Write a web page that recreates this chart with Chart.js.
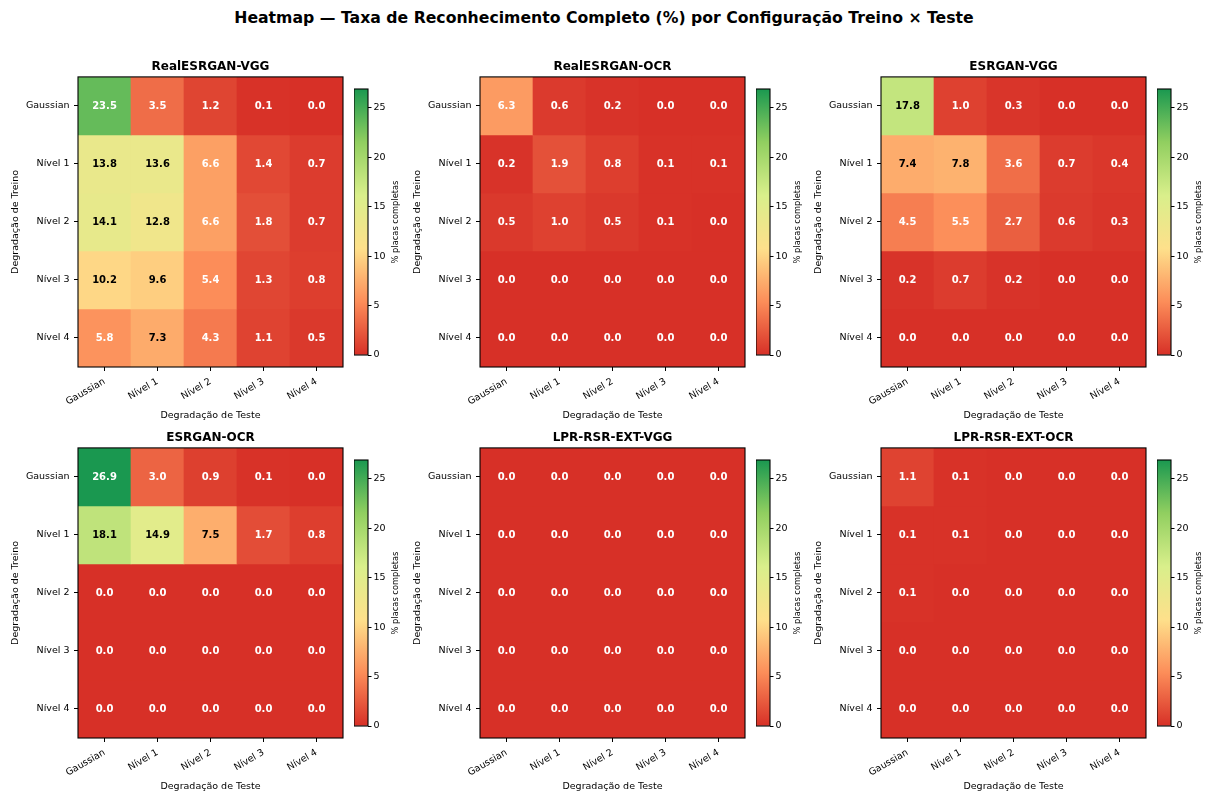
<!DOCTYPE html>
<html>
<head>
<meta charset="utf-8">
<script src="https://cdn.jsdelivr.net/npm/chart.js@4.4.1/dist/chart.umd.min.js"></script>
<style>
  body { margin: 0; background: #fff; width: 1208px; height: 794px; position: relative; overflow: hidden; font-family: 'DejaVu Sans', sans-serif; }
  #suptitle { position: absolute; left: 0; top: 8px; width: 1208px; text-align: center; font-weight: bold; font-size: 15.7px; color: #000; }
  canvas { position: absolute; }
</style>
</head>
<body>
<div id="suptitle">Heatmap — Taxa de Reconhecimento Completo (%) por Configuração Treino × Teste</div>
<script>
// eixos
const testLabels = ['Gaussian', 'Nível 1', 'Nível 2', 'Nível 3', 'Nível 4'];
const trainLabels = ['Gaussian', 'Nível 1', 'Nível 2', 'Nível 3', 'Nível 4'];
const colorbarTicks = [0, 5, 10, 15, 20, 25];

// % placas completas (linhas = treino, colunas = teste)
const realEsrganVgg = [
  [23.5, 3.5, 1.2, 0.1, 0.0],
  [13.8, 13.6, 6.6, 1.4, 0.7],
  [14.1, 12.8, 6.6, 1.8, 0.7],
  [10.2, 9.6, 5.4, 1.3, 0.8],
  [5.8, 7.3, 4.3, 1.1, 0.5]
];
const realEsrganOcr = [
  [6.3, 0.6, 0.2, 0.0, 0.0],
  [0.2, 1.9, 0.8, 0.1, 0.1],
  [0.5, 1.0, 0.5, 0.1, 0.0],
  [0.0, 0.0, 0.0, 0.0, 0.0],
  [0.0, 0.0, 0.0, 0.0, 0.0]
];
const esrganVgg = [
  [17.8, 1.0, 0.3, 0.0, 0.0],
  [7.4, 7.8, 3.6, 0.7, 0.4],
  [4.5, 5.5, 2.7, 0.6, 0.3],
  [0.2, 0.7, 0.2, 0.0, 0.0],
  [0.0, 0.0, 0.0, 0.0, 0.0]
];
const esrganOcr = [
  [26.9, 3.0, 0.9, 0.1, 0.0],
  [18.1, 14.9, 7.5, 1.7, 0.8],
  [0.0, 0.0, 0.0, 0.0, 0.0],
  [0.0, 0.0, 0.0, 0.0, 0.0],
  [0.0, 0.0, 0.0, 0.0, 0.0]
];
const lprRsrExtVgg = [
  [0.0, 0.0, 0.0, 0.0, 0.0],
  [0.0, 0.0, 0.0, 0.0, 0.0],
  [0.0, 0.0, 0.0, 0.0, 0.0],
  [0.0, 0.0, 0.0, 0.0, 0.0],
  [0.0, 0.0, 0.0, 0.0, 0.0]
];
const lprRsrExtOcr = [
  [1.1, 0.1, 0.0, 0.0, 0.0],
  [0.1, 0.1, 0.0, 0.0, 0.0],
  [0.1, 0.0, 0.0, 0.0, 0.0],
  [0.0, 0.0, 0.0, 0.0, 0.0],
  [0.0, 0.0, 0.0, 0.0, 0.0]
];

const panels = [
  { title: 'RealESRGAN-VGG', values: realEsrganVgg },
  { title: 'RealESRGAN-OCR', values: realEsrganOcr },
  { title: 'ESRGAN-VGG', values: esrganVgg },
  { title: 'ESRGAN-OCR', values: esrganOcr },
  { title: 'LPR-RSR-EXT-VGG', values: lprRsrExtVgg },
  { title: 'LPR-RSR-EXT-OCR', values: lprRsrExtOcr }
];

const vmax = Math.max(...panels.flatMap(p => p.values.flat()));
const FONT = 'DejaVu Sans';

// layout (px)
const colLeft = [78, 480, 881];
const rowTop = [77, 448];
const cellW = 53, cellH = 58;
const yAxisW = 78;
const cbLeft = [354, 756, 1157];
const cbTop = [89, 460];
const cbW = 14, cbH = 266;

// colormap RdYlGn (6 cores)
const cmapStops = ['#d73027', '#fc8d59', '#fee08b', '#d9ef8b', '#91cf60', '#1a9850'];
const hexRgb = h => [1, 3, 5].map(i => parseInt(h.slice(i, i + 2), 16));
function cmap(v) {
  const t = Math.min(Math.max(v / vmax, 0), 1) * (cmapStops.length - 1);
  const i = Math.min(Math.floor(t), cmapStops.length - 2);
  const f = t - i;
  const a = hexRgb(cmapStops[i]), b = hexRgb(cmapStops[i + 1]);
  const c = a.map((x, k) => Math.round(x + (b[k] - x) * f));
  return `rgb(${c[0]},${c[1]},${c[2]})`;
}

const framePlugin = {
  id: 'frame',
  afterDraw(chart) {
    const { ctx, chartArea: a } = chart;
    ctx.save();
    ctx.strokeStyle = '#000';
    ctx.lineWidth = 1.1;
    ctx.strokeRect(a.left, a.top, a.right - a.left, a.bottom - a.top);
    ctx.restore();
  }
};

const annotPlugin = {
  id: 'annot',
  afterDatasetsDraw(chart) {
    const { ctx } = chart;
    const matrix = chart.options.plugins.annot.values;
    ctx.save();
    ctx.font = `bold 10px ${FONT}`;
    ctx.textAlign = 'center';
    ctx.textBaseline = 'middle';
    chart.data.datasets.forEach((ds, i) => {
      chart.getDatasetMeta(i).data.forEach((bar, j) => {
        const v = matrix[i][j];
        const { x, y, base } = bar.getProps(['x', 'y', 'base'], true);
        ctx.fillStyle = (v > vmax * 0.25 && v < vmax * 0.75) ? '#000' : '#fff';
        ctx.fillText(v.toFixed(1), x, (y + base) / 2 + 0.5);
      });
    });
    ctx.restore();
  }
};

const cbLabelPlugin = {
  id: 'cbLabel',
  afterDraw(chart) {
    const { ctx, chartArea: a } = chart;
    ctx.save();
    ctx.translate(a.right + 28, (a.top + a.bottom) / 2);
    ctx.rotate(-Math.PI / 2);
    ctx.font = `8.3px ${FONT}`;
    ctx.fillStyle = '#000';
    ctx.textAlign = 'center';
    ctx.textBaseline = 'middle';
    ctx.fillText('% placas completas', 0, 0);
    ctx.restore();
  }
};

function addCanvas(left, top, w, h) {
  const cv = document.createElement('canvas');
  cv.width = w; cv.height = h;
  cv.style.left = left + 'px'; cv.style.top = top + 'px';
  cv.style.width = w + 'px'; cv.style.height = h + 'px';
  document.body.appendChild(cv);
  return cv;
}

const tickFont = { family: FONT, size: 9.5 };

function drawHeatmap(panel, col, row) {
  const L = colLeft[col], T = rowTop[row];
  // canvas simétrico em torno da área do heatmap para centrar o título
  const cv = addCanvas(L - yAxisW, T - 30, yAxisW * 2 + cellW * 5, 30 + cellH * 5 + 60);
  new Chart(cv, {
    type: 'bar',
    data: {
      labels: testLabels,
      datasets: trainLabels.map((name, i) => ({
        label: name,
        data: testLabels.map(() => 1),
        backgroundColor: panel.values[i].map(cmap),
        borderWidth: 0,
        barPercentage: 1,
        categoryPercentage: 1
      }))
    },
    options: {
      responsive: false,
      animation: false,
      events: [],
      layout: { padding: 0 },
      plugins: {
        legend: { display: false },
        tooltip: { enabled: false },
        title: {
          display: true, text: panel.title, color: '#000',
          font: { family: FONT, size: 12, weight: 'bold' },
          padding: { top: 12.5, bottom: 3 }
        },
        annot: { values: panel.values }
      },
      scales: {
        x: {
          stacked: true,
          grid: { offset: false, drawOnChartArea: false, drawTicks: true, tickLength: 4, color: '#000' },
          border: { display: false },
          ticks: { minRotation: 30, maxRotation: 30, autoSkip: false, padding: 5, color: '#000', font: tickFont },
          title: { display: true, text: 'Degradação de Teste', color: '#000', font: tickFont, padding: { top: 0, bottom: 6 } },
          afterFit: s => { s.height = 60; }
        },
        y: {
          stacked: true,
          reverse: true,
          min: 0,
          max: trainLabels.length,
          afterBuildTicks: s => { s.ticks = trainLabels.map((_, i) => ({ value: i + 0.5 })); },
          grid: { drawOnChartArea: false, drawTicks: true, tickLength: 4, color: '#000' },
          border: { display: false },
          ticks: { padding: 4.5, color: '#000', font: tickFont, callback: v => trainLabels[Math.floor(v)] },
          title: { display: true, text: 'Degradação de Treino', color: '#000', font: tickFont, padding: { top: 10, bottom: 0 } },
          afterFit: s => { s.width = yAxisW; }
        },
        // eixo vazio à direita, só para reservar espaço simétrico
        spacer: {
          type: 'linear',
          position: 'right',
          grid: { display: false },
          border: { display: false },
          ticks: { display: false },
          afterFit: s => { s.width = yAxisW; }
        }
      }
    },
    plugins: [annotPlugin, framePlugin]
  });
}

function drawColorbar(col, row) {
  const L = cbLeft[col], T = cbTop[row];
  const cv = addCanvas(L, T - 12, cbW + 50, cbH + 24);
  new Chart(cv, {
    type: 'bar',
    data: {
      labels: [''],
      datasets: [{
        data: [vmax],
        borderWidth: 0,
        barPercentage: 1,
        categoryPercentage: 1,
        backgroundColor: ctx => {
          const chart = ctx.chart;
          if (!chart.chartArea) return cmapStops[0];
          const y = chart.scales.y;
          const g = chart.ctx.createLinearGradient(0, y.getPixelForValue(0), 0, y.getPixelForValue(vmax));
          cmapStops.forEach((c, i) => g.addColorStop(i / (cmapStops.length - 1), c));
          return g;
        }
      }]
    },
    options: {
      responsive: false,
      animation: false,
      events: [],
      layout: { padding: { left: 0, right: 0, top: 12, bottom: 12 } },
      plugins: { legend: { display: false }, tooltip: { enabled: false } },
      scales: {
        x: { display: false },
        y: {
          position: 'right',
          min: 0,
          max: vmax,
          afterBuildTicks: s => { s.ticks = colorbarTicks.map(v => ({ value: v })); },
          grid: { drawOnChartArea: false, drawTicks: true, tickLength: 3.5, color: '#000' },
          border: { display: false },
          ticks: { padding: 2, color: '#000', font: tickFont },
          afterFit: s => { s.width = 50; }
        }
      }
    },
    plugins: [framePlugin, cbLabelPlugin]
  });
}

panels.forEach((p, k) => {
  const col = k % 3, row = Math.floor(k / 3);
  drawHeatmap(p, col, row);
  drawColorbar(col, row);
});
</script>
</body>
</html>
